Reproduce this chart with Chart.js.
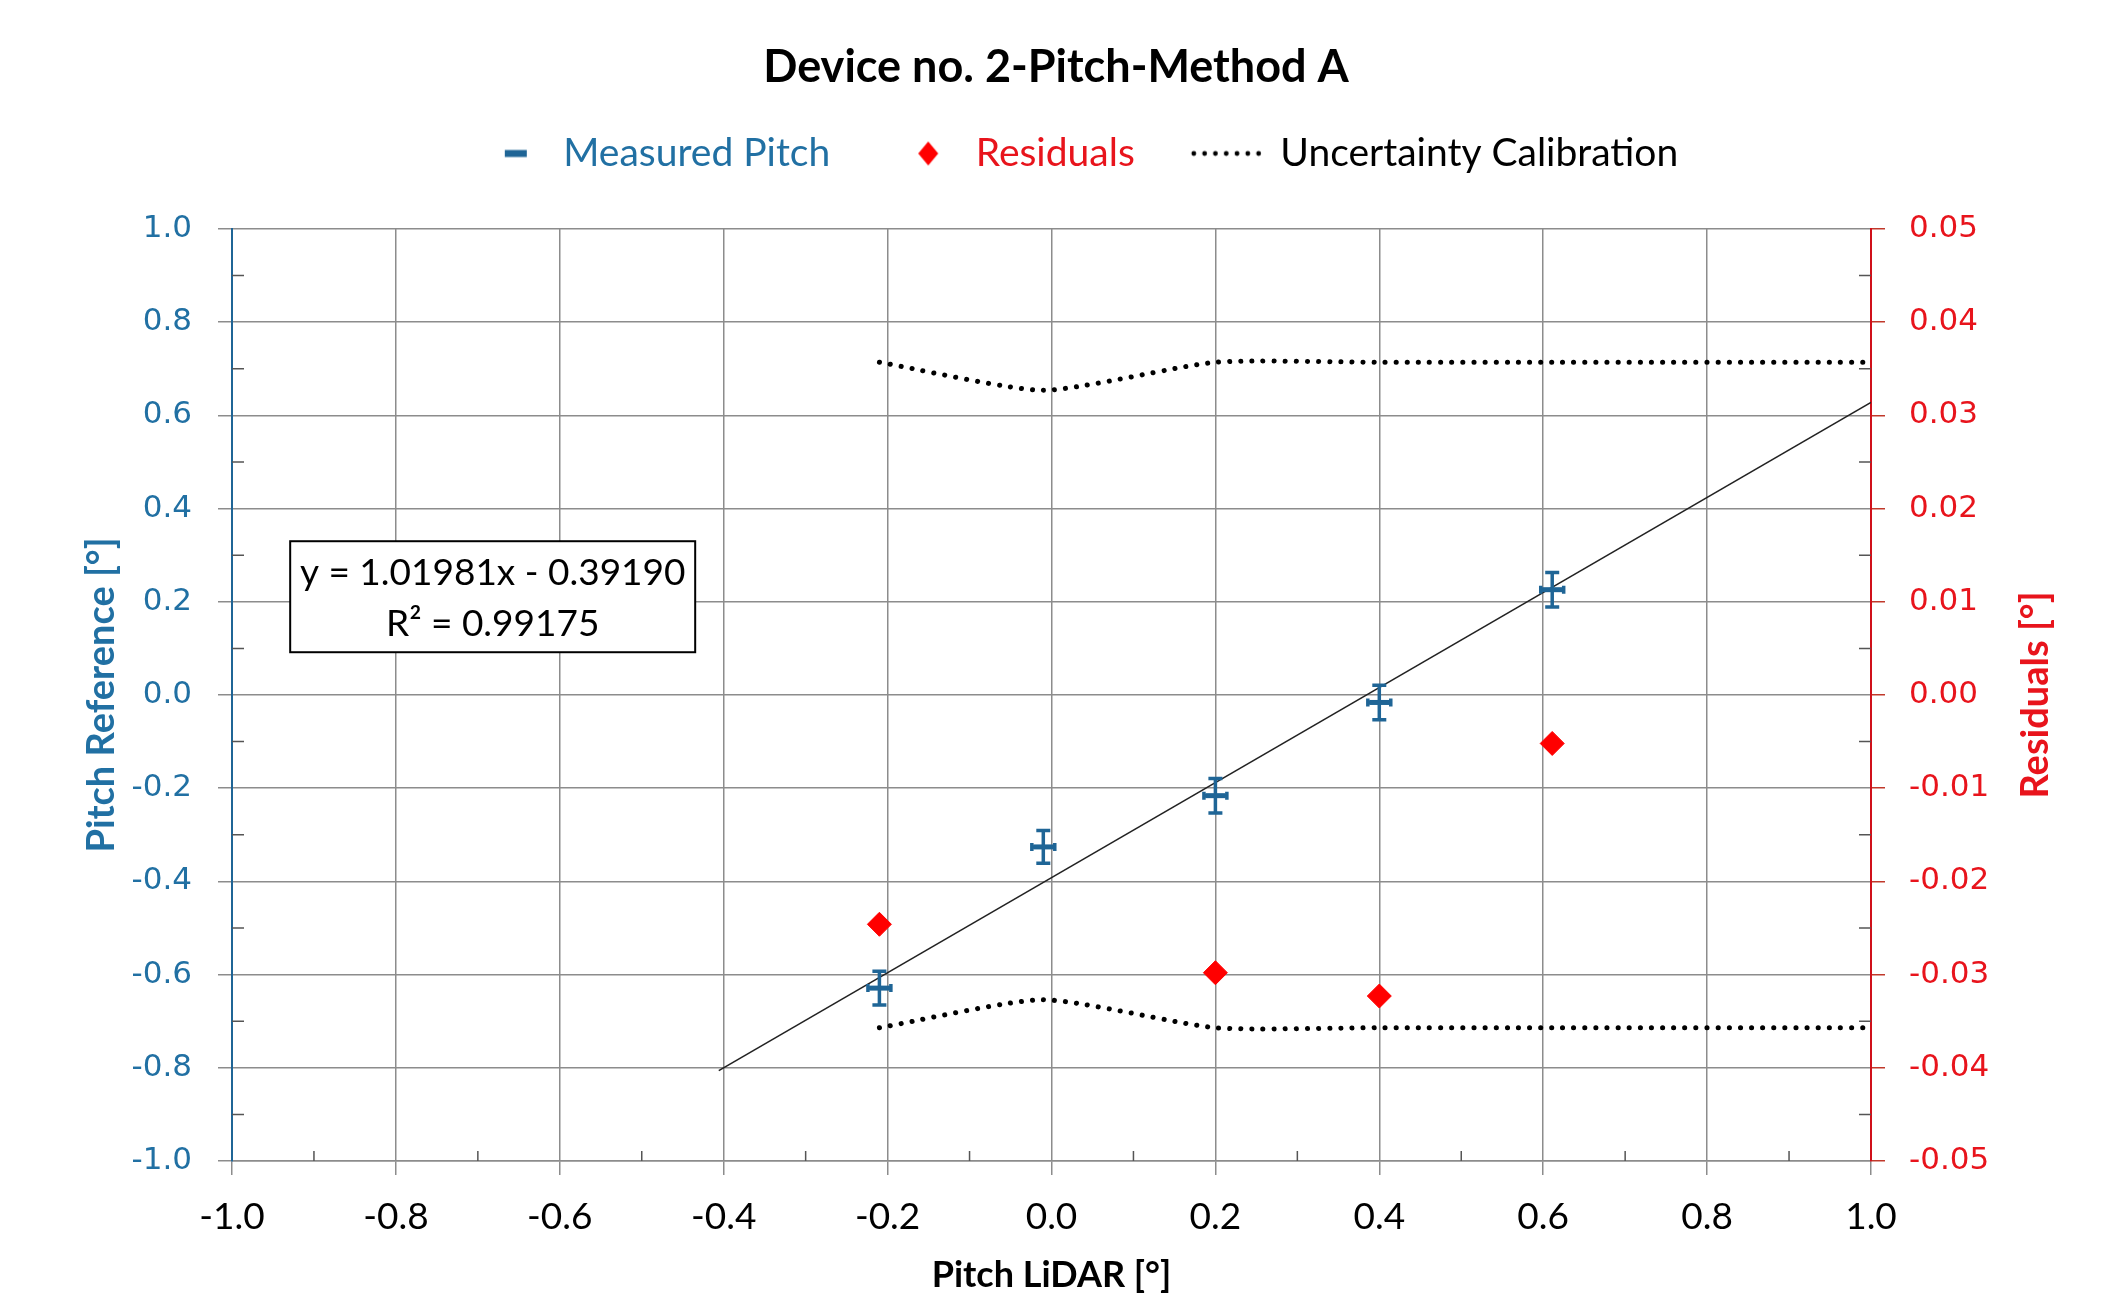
<!DOCTYPE html>
<html>
<head>
<meta charset="utf-8">
<title>Device no. 2-Pitch-Method A</title>
<script src="https://cdn.jsdelivr.net/npm/chart.js@4/dist/chart.umd.min.js"></script>
<style>
  html, body { margin: 0; padding: 0; background: #fff; }
  #wrap { width: 2112px; height: 1298px; }
</style>
</head>
<body>
<div id="wrap"><canvas id="pitchChart"></canvas></div>
<script>
// --- data ---
const pitchLidar    = [-0.210, -0.010, 0.200, 0.400, 0.611];
const pitchRef      = [-0.629, -0.326, -0.216, -0.016, 0.226];
const pitchRefErr   = [0.036, 0.035, 0.037, 0.037, 0.037];
const pitchLidarErr = [0.014, 0.014, 0.014, 0.014, 0.014];

const residualX = [-0.210, 0.200, 0.400, 0.611];
const residuals = [-0.0246, -0.0298, -0.0323, -0.0052];

const uncertX     = [-0.210, -0.010, 0.200, 0.400, 0.611, 1.000];
const uncertUpper = [0.714, 0.654, 0.714, 0.714, 0.714, 0.714];
const uncertLower = [-0.714, -0.654, -0.714, -0.714, -0.714, -0.714];

const trendX = [-0.406, 1.000];
const trendY = [-0.806, 0.628];

const minorTicks = [-0.9, -0.7, -0.5, -0.3, -0.1, 0.1, 0.3, 0.5, 0.7, 0.9];

const equationLines = ['y = 1.01981x - 0.39190', 'R² = 0.99175'];

// --- colours ---
const BLUE = '#1f6596';
const BLUE_TXT = '#2170a3';
const RED = '#ff0000';
const RED_TXT = '#e8141c';
const GRID = '#8c8c8c';

const toXY = (xs, ys) => xs.map((x, i) => ({ x: x, y: ys[i] }));
const fmt = (v, d) => (Math.abs(v) < 1e-9 ? 0 : v).toFixed(d);

// small canvases used as legend markers (box is 110 wide, canvas starts 10px before it)
function markerCanvas(draw) {
    const c = document.createElement('canvas');
    c.width = 130;
    c.height = 30;
    draw(c.getContext('2d'));
    return c;
}
const dashMark = markerCanvas(g => {
    g.fillStyle = BLUE;
    g.fillRect(81, 11.5, 22, 7);
});
const diamondMark = markerCanvas(g => {
    g.fillStyle = RED;
    g.beginPath();
    g.moveTo(92, 3); g.lineTo(102, 15); g.lineTo(92, 27); g.lineTo(82, 15);
    g.closePath();
    g.fill();
});
const dotsMark = markerCanvas(g => {
    g.fillStyle = '#000';
    for (let x = 53; x <= 127; x += 10.8) {
        g.beginPath();
        g.arc(x, 15, 2.4, 0, Math.PI * 2);
        g.fill();
    }
});

// error bars for the measured points
const errorBars = {
    id: 'errorBars',
    afterDatasetsDraw(chart) {
        const { ctx, scales: { x, y } } = chart;
        ctx.save();
        ctx.strokeStyle = BLUE;
        ctx.lineWidth = 3.5;
        pitchLidar.forEach((lx, i) => {
            const px = x.getPixelForValue(lx);
            const py = y.getPixelForValue(pitchRef[i]);
            const top = y.getPixelForValue(pitchRef[i] + pitchRefErr[i]);
            const bot = y.getPixelForValue(pitchRef[i] - pitchRefErr[i]);
            const l = x.getPixelForValue(lx - pitchLidarErr[i]);
            const r = x.getPixelForValue(lx + pitchLidarErr[i]);
            ctx.beginPath();
            ctx.moveTo(px, top); ctx.lineTo(px, bot);
            ctx.moveTo(px - 7, top); ctx.lineTo(px + 7, top);
            ctx.moveTo(px - 7, bot); ctx.lineTo(px + 7, bot);
            ctx.moveTo(l, py); ctx.lineTo(r, py);
            ctx.moveTo(l, py - 4); ctx.lineTo(l, py + 4);
            ctx.moveTo(r, py - 4); ctx.lineTo(r, py + 4);
            ctx.stroke();
        });
        ctx.restore();
    }
};

// minor tick marks on the inside of the axes
const minorTickMarks = {
    id: 'minorTickMarks',
    beforeDatasetsDraw(chart) {
        const { ctx, chartArea: a, scales: { x, y } } = chart;
        ctx.save();
        ctx.strokeStyle = '#555';
        ctx.lineWidth = 1.5;
        ctx.beginPath();
        minorTicks.forEach(v => {
            const py = y.getPixelForValue(v);
            ctx.moveTo(a.left, py); ctx.lineTo(a.left + 12, py);
            ctx.moveTo(a.right - 12, py); ctx.lineTo(a.right, py);
            const px = x.getPixelForValue(v);
            ctx.moveTo(px, a.bottom); ctx.lineTo(px, a.bottom - 10);
        });
        ctx.stroke();
        ctx.restore();
    }
};

// regression equation box
const equationBox = {
    id: 'equationBox',
    afterDatasetsDraw(chart) {
        const { ctx, scales: { x, y } } = chart;
        const left = x.getPixelForValue(-0.929);
        const top = y.getPixelForValue(0.330);
        const w = 405, h = 111;
        ctx.save();
        ctx.fillStyle = '#fff';
        ctx.fillRect(left, top, w, h);
        ctx.strokeStyle = '#000';
        ctx.lineWidth = 2;
        ctx.strokeRect(left, top, w, h);
        ctx.fillStyle = '#000';
        ctx.font = '37px Lato';
        ctx.textAlign = 'center';
        ctx.textBaseline = 'middle';
        ctx.fillText(equationLines[0], left + w / 2, top + 32);
        ctx.fillText(equationLines[1], left + w / 2, top + 83);
        ctx.restore();
    }
};

// right axis title, reading bottom to top like the left one
const rightTitle = {
    id: 'rightTitle',
    afterDraw(chart) {
        const { ctx, chartArea: a } = chart;
        ctx.save();
        ctx.translate(2036, (a.top + a.bottom) / 2);
        ctx.rotate(-Math.PI / 2);
        ctx.fillStyle = RED_TXT;
        ctx.font = 'bold 38px Lato';
        ctx.textAlign = 'center';
        ctx.textBaseline = 'middle';
        ctx.fillText('Residuals [°]', 0, 0);
        ctx.restore();
    }
};

// extra room under the legend
const legendGap = {
    id: 'legendGap',
    beforeInit(chart) {
        const fit = chart.legend.fit;
        chart.legend.fit = function () {
            fit.bind(chart.legend)();
            this.height = 111;
        };
    }
};

const uncertStyle = {
    type: 'line',
    borderColor: '#000',
    borderWidth: 5,
    borderDash: [0.1, 11],
    borderCapStyle: 'round',
    pointRadius: 0,
    tension: 0.2,
    fill: false,
    yAxisID: 'y'
};

new Chart(document.getElementById('pitchChart'), {
    type: 'scatter',
    data: {
        datasets: [{
            label: 'Measured Pitch',
            data: toXY(pitchLidar, pitchRef),
            pointStyle: 'line',
            pointRadius: 10,
            pointBorderWidth: 5,
            borderColor: BLUE,
            backgroundColor: BLUE,
            yAxisID: 'y'
        }, {
            label: 'Residuals',
            data: toXY(residualX, residuals),
            pointStyle: 'rectRot',
            pointRadius: 12,
            pointBorderWidth: 1,
            borderColor: RED,
            backgroundColor: RED,
            yAxisID: 'y2'
        }, Object.assign({
            label: 'Uncertainty Calibration',
            data: toXY(uncertX, uncertUpper)
        }, uncertStyle), Object.assign({
            label: 'Uncertainty lower',
            data: toXY(uncertX, uncertLower)
        }, uncertStyle), {
            type: 'line',
            label: 'Trend',
            data: toXY(trendX, trendY),
            borderColor: '#222',
            borderWidth: 1.6,
            pointRadius: 0,
            fill: false,
            yAxisID: 'y'
        }]
    },
    options: {
        responsive: true,
        maintainAspectRatio: false,
        animation: false,
        layout: { padding: 0 },
        plugins: {
            title: {
                display: true,
                text: 'Device no. 2-Pitch-Method A',
                color: '#000',
                font: { family: 'Lato', size: 45, weight: 'bold' },
                padding: { top: 40, bottom: 24 }
            },
            legend: {
                display: true,
                position: 'top',
                labels: {
                    usePointStyle: true,
                    pointStyleWidth: 110,
                    padding: 16,
                    font: { family: 'Lato', size: 39 },
                    generateLabels: () => [
                        { text: 'Measured Pitch', pointStyle: dashMark, fontColor: BLUE_TXT, datasetIndex: 0, lineWidth: 0 },
                        { text: 'Residuals', pointStyle: diamondMark, fontColor: RED_TXT, datasetIndex: 1, lineWidth: 0 },
                        { text: 'Uncertainty Calibration', pointStyle: dotsMark, fontColor: '#000', datasetIndex: 2, lineWidth: 0 }
                    ]
                }
            },
            tooltip: { enabled: false }
        },
        scales: {
            x: {
                type: 'linear',
                position: 'bottom',
                min: -1,
                max: 1,
                ticks: {
                    stepSize: 0.2,
                    color: '#000',
                    padding: 20,
                    font: { family: 'Lato', size: 37 },
                    callback: v => fmt(v, 1)
                },
                grid: { color: GRID, lineWidth: 1.5, tickLength: 14, tickColor: GRID },
                border: { color: GRID, width: 1.5 },
                title: {
                    display: true,
                    text: 'Pitch LiDAR [°]',
                    color: '#000',
                    font: { family: 'Lato', size: 36, weight: 'bold' },
                    padding: { top: 0, bottom: 1 }
                },
                afterFit: s => { s.height = 137; }
            },
            y: {
                type: 'linear',
                position: 'left',
                min: -1,
                max: 1,
                ticks: {
                    stepSize: 0.2,
                    color: BLUE_TXT,
                    padding: 26,
                    font: { family: 'DejaVu Sans', size: 31 },
                    callback: v => fmt(v, 1)
                },
                grid: { color: GRID, lineWidth: 1.5, tickLength: 14, tickColor: GRID },
                border: { color: BLUE, width: 2 },
                title: {
                    display: true,
                    text: 'Pitch Reference [°]',
                    color: BLUE_TXT,
                    font: { family: 'Lato', size: 38, weight: 'bold' },
                    padding: { top: 79, bottom: 0 }
                },
                afterFit: s => { s.width = 232; }
            },
            y2: {
                type: 'linear',
                position: 'right',
                min: -0.05,
                max: 0.05,
                ticks: {
                    stepSize: 0.01,
                    color: RED_TXT,
                    padding: 24,
                    font: { family: 'DejaVu Sans', size: 31 },
                    callback: v => fmt(v, 2)
                },
                grid: { drawOnChartArea: false, tickLength: 14, tickColor: '#c0392b', lineWidth: 1.5 },
                border: { color: '#d0101a', width: 2 },
                afterFit: s => { s.width = 241; }
            }
        }
    },
    plugins: [legendGap, minorTickMarks, errorBars, equationBox, rightTitle]
});
</script>
</body>
</html>
